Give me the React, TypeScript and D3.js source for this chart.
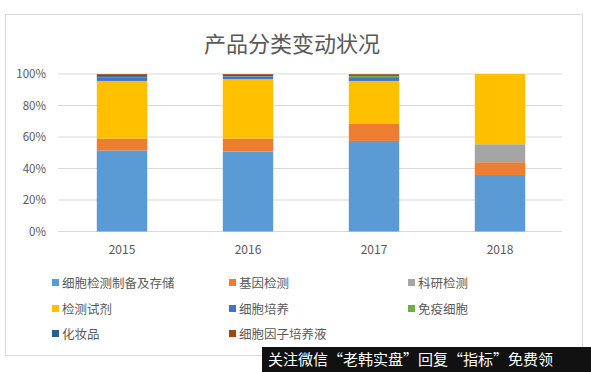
import * as d3 from "d3"

const years = ["2015", "2016", "2017", "2018"]
const seriesNames = [
  "细胞检测制备及存储",
  "基因检测",
  "科研检测",
  "检测试剂",
  "细胞培养",
  "免疫细胞",
  "化妆品",
  "细胞因子培养液",
]
const seriesColors = ["#5b9bd5", "#ed7d31", "#a5a5a5", "#ffc000", "#4472c4", "#70ad47", "#255e91", "#9e480e"]

// shares in %, one array per series, in year order
const cellTesting = [51.5, 50.7, 57.5, 35.9]
const geneTesting = [7.5, 8.3, 10.8, 8.1]
const researchTesting = [0, 0, 0, 11.4]
const reagents = [36.6, 37.8, 27.3, 44.6]
const cellCulture = [2.4, 1.5, 2.4, 0]
const immuneCells = [0.2, 0.2, 0.8, 0]
const cosmetics = [1.3, 1.0, 0.8, 0]
const cytokines = [0.5, 0.5, 0.4, 0]
const seriesValues = [cellTesting, geneTesting, researchTesting, reagents, cellCulture, immuneCells, cosmetics, cytokines]

const yTicks = [0, 20, 40, 60, 80, 100]

const W = 591
const H = 372
const font = "'Noto Sans CJK SC', 'Noto Sans', sans-serif"

export default function App() {
  const x = d3.scaleBand().domain(years).range([59, 563]).paddingInner(0.6).paddingOuter(0.3)
  const y = d3.scaleLinear().domain([0, 100]).range([231.5, 74])

  const table = years.map((yr, i) => {
    const row: Record<string, number | string> = { year: yr }
    seriesNames.forEach((s, k) => (row[s] = seriesValues[k][i]))
    return row
  })
  const stacked = d3.stack<Record<string, number | string>>().keys(seriesNames)(table as any)

  const legendCols = [52, 229, 408]
  const legendRows = [283, 309, 334]

  return (
    <svg width={W} height={H} style={{ position: "absolute", left: 0, top: 0, background: "#fff" }}>
      <rect x={5.5} y={14.5} width={577} height={341} fill="#fff" stroke="#d9d9d9" />
      <text x={292} y={52} textAnchor="middle" fontFamily={font} fontSize={22} fill="#595959">
        产品分类变动状况
      </text>

      {yTicks.map((t) => (
        <g key={t}>
          <line x1={58} x2={562} y1={y(t)} y2={y(t)} stroke="#d9d9d9" />
          <text x={46} y={y(t) + 4} textAnchor="end" fontFamily={font} fontSize={11.5} fill="#595959">
            {t}%
          </text>
        </g>
      ))}

      {stacked.map((layer, k) => (
        <g key={layer.key} fill={seriesColors[k]}>
          {layer.map((d, i) => (
            <rect
              key={years[i]}
              x={x(years[i])}
              y={y(d[1])}
              width={x.bandwidth()}
              height={Math.max(0, y(d[0]) - y(d[1]))}
            />
          ))}
        </g>
      ))}

      {years.map((yr) => (
        <text
          key={yr}
          x={(x(yr) ?? 0) + x.bandwidth() / 2}
          y={254}
          textAnchor="middle"
          fontFamily={font}
          fontSize={12}
          fill="#595959"
        >
          {yr}
        </text>
      ))}

      {seriesNames.map((s, k) => {
        const cx = legendCols[k % 3]
        const cy = legendRows[Math.floor(k / 3)]
        return (
          <g key={s}>
            <rect x={cx} y={cy - 4} width={7} height={7} fill={seriesColors[k]} />
            <text x={cx + 10} y={cy + 4.5} fontFamily={font} fontSize={12.5} fill="#595959">
              {s}
            </text>
          </g>
        )
      })}

      <rect x={262} y={347} width={329} height={25} fill="#111" />
      <text x={268} y={365} fontFamily={font} fontSize={15} fill="#fff">
        关注微信“老韩实盘”回复“指标”免费领
      </text>
    </svg>
  )
}
